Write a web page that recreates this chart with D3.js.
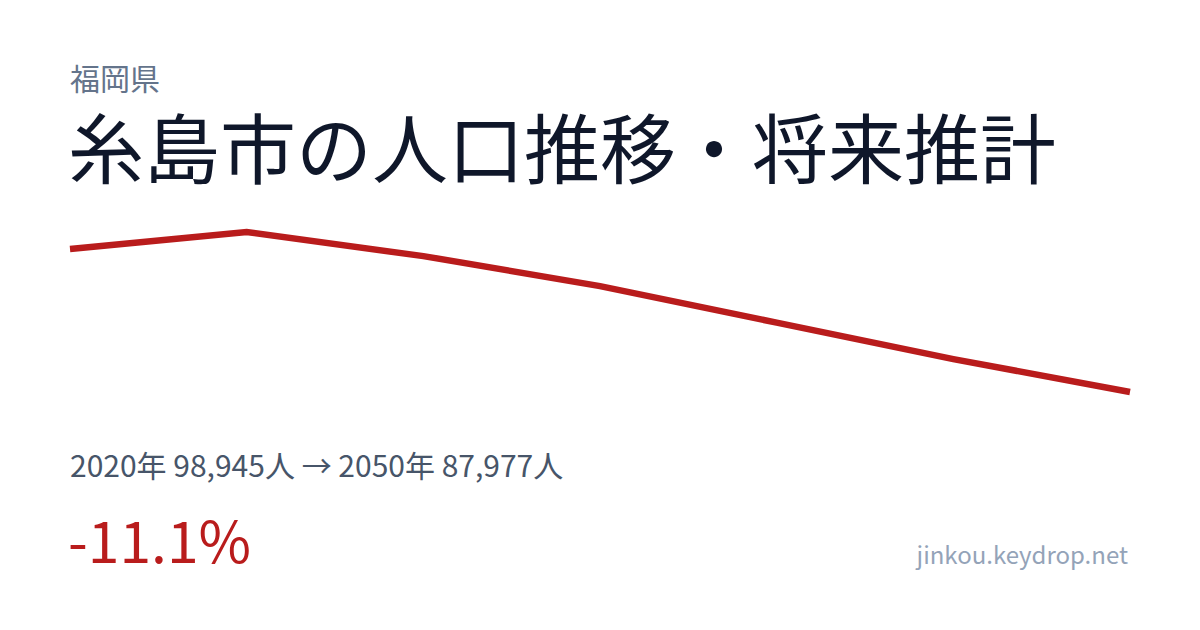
<!DOCTYPE html>
<html>
<head>
<meta charset="utf-8">
<script src="https://cdn.jsdelivr.net/npm/d3@7"></script>
<style>
  html, body { margin: 0; padding: 0; background: #fff; }
  svg { display: block; }
  text { font-family: "Noto Sans CJK JP", "Noto Sans", sans-serif; }
</style>
</head>
<body>
<div id="c_plot"></div>
<script>
// data
var years = [2020, 2025, 2030, 2035, 2040, 2045, 2050];
var population = [98945, 100250, 98400, 96100, 93300, 90500, 87977];

var prefName = "福岡県";
var title = "糸島市の人口推移・将来推計";
var summary = "2020年 98,945人 → 2050年 87,977人";
var change = "-11.1%";
var site = "jinkou.keydrop.net";

var width = 1200, height = 630;

var svg = d3.select("#c_plot")
  .append("svg")
  .attr("width", width)
  .attr("height", height);

svg.append("rect")
  .attr("width", width)
  .attr("height", height)
  .attr("fill", "#ffffff");

// header
svg.append("text")
  .attr("x", 70).attr("y", 90)
  .attr("font-size", 30)
  .attr("fill", "#64748b")
  .text(prefName);

svg.append("text")
  .attr("x", 68).attr("y", 178)
  .attr("font-size", 76)
  .attr("fill", "#0f172a")
  .text(title);

// line
var x = d3.scaleLinear().domain(d3.extent(years)).range([70, 1130]);
var y = d3.scaleLinear().domain(d3.extent(population)).range([392, 232]);

var line = d3.line()
  .x((d, i) => x(years[i]))
  .y(d => y(d));

svg.append("path")
  .attr("d", line(population))
  .attr("fill", "none")
  .attr("stroke", "#b91c1c")
  .attr("stroke-width", 6.5)
  .attr("stroke-linejoin", "miter");

// footer
svg.append("text")
  .attr("x", 70).attr("y", 477)
  .attr("font-size", 30)
  .attr("fill", "#475569")
  .text(summary);

svg.append("text")
  .attr("x", 68).attr("y", 563)
  .attr("font-size", 57)
  .attr("fill", "#b91c1c")
  .text(change);

svg.append("text")
  .attr("x", 1128).attr("y", 564)
  .attr("text-anchor", "end")
  .attr("font-size", 24)
  .attr("fill", "#94a3b8")
  .text(site);
</script>
</body>
</html>
